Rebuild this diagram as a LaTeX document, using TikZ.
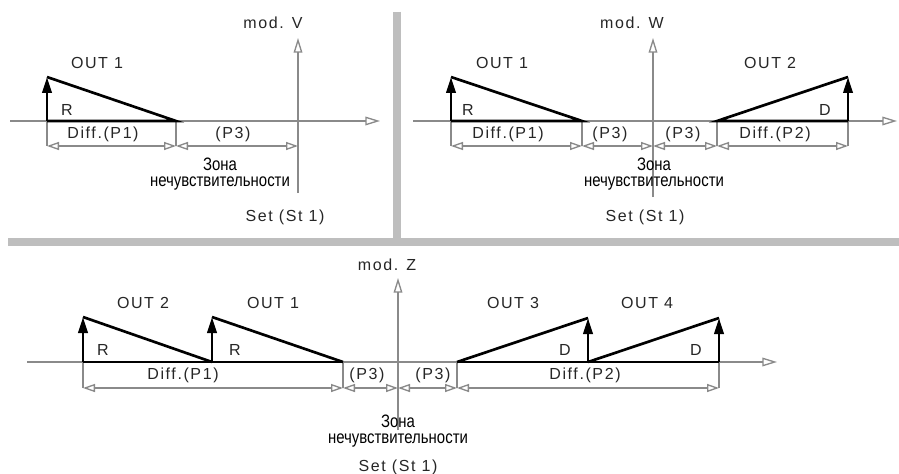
\documentclass[tikz,border=0pt]{standalone}
\usepackage{fontspec}
\setmainfont{Liberation Sans}
\newfontfamily\lblfont{Liberation Sans}[LetterSpace=10]
\newfontfamily\narrowfont{Liberation Sans}[FakeStretch=0.83]
\usetikzlibrary{arrows.meta}
\definecolor{axisgray}{HTML}{8A8A8A}
\definecolor{sepgray}{HTML}{BEBEBE}
\tikzset{
 axisline/.style={axisgray, line width=1.1pt, -{Triangle[open, length=11pt, width=6.5pt, line width=1pt]}},
 dimline/.style={axisgray, line width=1pt, {Triangle[open,length=9pt,width=6pt,line width=1pt]}-{Triangle[open,length=9pt,width=6pt,line width=1pt]}},
 tickline/.style={axisgray, line width=1pt},
 ramp/.style={black, line width=2pt},
 rampup/.style={black, line width=2pt, -{Triangle[length=12pt,width=7pt]}},
 lbl/.style={font=\lblfont\fontsize{12}{14}\selectfont, inner sep=0pt, text=black!85},
 zlbl/.style={font=\narrowfont\fontsize{13.5}{12}\selectfont, inner sep=0pt, align=center},
 sepbar/.style={sepgray, line width=6pt},
}
\begin{document}
\begin{tikzpicture}[x=0.75pt,y=-0.75pt]
\useasboundingbox[fill=white] (0,0) rectangle (899,474);
% separators
\coordinate (sv1) at (396.5,12); \coordinate (sv2) at (396.5,238);
\coordinate (sh1) at (8,242); \coordinate (sh2) at (899,242);
\draw[sepbar] (sv1) -- (sv2);
\draw[sepbar] (sh1) -- (sh2);

% ================= panel 1 =================
\coordinate (a1L) at (10,121); \coordinate (a1R) at (380,121);
\coordinate (v1B) at (298,193); \coordinate (v1T) at (298,38);
\coordinate (p1a) at (47,121); \coordinate (p1t) at (47,77); \coordinate (p1b) at (176,121);
\coordinate (d1a) at (47,146); \coordinate (d1b) at (176,146); \coordinate (d1c) at (298,146);
\draw[axisline] (a1L) -- (a1R);
\draw[axisline] (v1B) -- (v1T);
\draw[tickline] (p1a) -- (d1a);
\draw[tickline] (p1b) -- (d1b);
\draw[dimline] (d1a) -- (d1b);
\draw[dimline] (d1b) -- (d1c);
\draw[ramp] (p1a) -- (p1b) -- (p1t);
\draw[rampup] (p1a) -- (p1t);
\node[lbl] (modV) at (273,23) {mod. V};
\node[lbl] (o1a) at (97,63) {OUT 1};
\node[lbl] (r1a) at (67,110) {R};
\node[lbl] (df1a) at (103,134) {Diff.(P1)};
\node[lbl] (p3a) at (233,134) {(P3)};
\node[zlbl] (zn1) at (220,174) {Зона\\нечувствительности};
\node[lbl] (st1) at (285,217) {Set (St 1)};

% ================= panel 2 =================
\coordinate (a2L) at (413,121); \coordinate (a2R) at (897,121);
\coordinate (v2B) at (653,197); \coordinate (v2T) at (653,38);
\coordinate (q1a) at (451,121); \coordinate (q1t) at (451,77); \coordinate (q1b) at (582,121);
\coordinate (q2a) at (717,121); \coordinate (q2t) at (848,77); \coordinate (q2b) at (848,121);
\coordinate (e1) at (451,146); \coordinate (e2) at (582,146); \coordinate (e3) at (653,146);
\coordinate (e4) at (717,146); \coordinate (e5) at (848,146);
\draw[axisline] (a2L) -- (a2R);
\draw[axisline] (v2B) -- (v2T);
\draw[tickline] (q1a) -- (e1);
\draw[tickline] (q1b) -- (e2);
\draw[tickline] (q2a) -- (e4);
\draw[tickline] (q2b) -- (e5);
\draw[dimline] (e1) -- (e2);
\draw[dimline] (e2) -- (e3);
\draw[dimline] (e3) -- (e4);
\draw[dimline] (e4) -- (e5);
\draw[ramp] (q1a) -- (q1b) -- (q1t);
\draw[rampup] (q1a) -- (q1t);
\draw[ramp] (q2b) -- (q2a) -- (q2t);
\draw[rampup] (q2b) -- (q2t);
\node[lbl] (modW) at (632,23) {mod. W};
\node[lbl] (o2a) at (502,63) {OUT 1};
\node[lbl] (o2b) at (770,63) {OUT 2};
\node[lbl] (r2a) at (468,110) {R};
\node[lbl] (d2a) at (825,110) {D};
\node[lbl] (df2a) at (508,134) {Diff.(P1)};
\node[lbl] (p3b) at (610,134) {(P3)};
\node[lbl] (p3c) at (683,134) {(P3)};
\node[lbl] (df2b) at (775,134) {Diff.(P2)};
\node[zlbl] (zn2) at (654,174) {Зона\\нечувствительности};
\node[lbl] (st2) at (645,217) {Set (St 1)};

% ================= panel 3 =================
\coordinate (a3L) at (27,362); \coordinate (a3R) at (777,362);
\coordinate (v3B) at (398,430); \coordinate (v3T) at (398,278);
\coordinate (s1a) at (83,362); \coordinate (s1t) at (83,317); \coordinate (s1b) at (212,362);
\coordinate (s2t) at (212,317); \coordinate (s2b) at (343,362);
\coordinate (u1a) at (457,362); \coordinate (u1t) at (588,318); \coordinate (u1b) at (588,362);
\coordinate (u2t) at (719,318); \coordinate (u2b) at (719,362);
\coordinate (f1) at (83,388); \coordinate (f2) at (343,388); \coordinate (f3) at (398,388);
\coordinate (f4) at (457,388); \coordinate (f5) at (719,388);
\draw[axisline] (a3L) -- (a3R);
\draw[axisline] (v3B) -- (v3T);
\draw[tickline] (s1a) -- (f1);
\draw[tickline] (s2b) -- (f2);
\draw[tickline] (u1a) -- (f4);
\draw[tickline] (u2b) -- (f5);
\draw[dimline] (f1) -- (f2);
\draw[dimline] (f2) -- (f3);
\draw[dimline] (f3) -- (f4);
\draw[dimline] (f4) -- (f5);
\draw[ramp] (s1a) -- (s2b);
\draw[ramp] (s1t) -- (s1b);
\draw[ramp] (s2t) -- (s2b);
\draw[rampup] (s1a) -- (s1t);
\draw[rampup] (s1b) -- (s2t);
\draw[ramp] (u1a) -- (u2b);
\draw[ramp] (u1a) -- (u1t);
\draw[ramp] (u1b) -- (u2t);
\draw[rampup] (u1b) -- (u1t);
\draw[rampup] (u2b) -- (u2t);
\node[lbl] (modZ) at (387,265) {mod. Z};
\node[lbl] (o3a) at (143,303) {OUT 2};
\node[lbl] (o3b) at (273,303) {OUT 1};
\node[lbl] (o3c) at (513,303) {OUT 3};
\node[lbl] (o3d) at (647,303) {OUT 4};
\node[lbl] (r3a) at (103,350) {R};
\node[lbl] (r3b) at (235,350) {R};
\node[lbl] (d3a) at (565,350) {D};
\node[lbl] (d3b) at (696,350) {D};
\node[lbl] (df3a) at (183,375) {Diff.(P1)};
\node[lbl] (p3d) at (367,375) {(P3)};
\node[lbl] (p3e) at (433,375) {(P3)};
\node[lbl] (df3b) at (585,375) {Diff.(P2)};
\node[zlbl] (zn3) at (398,431) {Зона\\нечувствительности};
\node[lbl] (st3) at (398,467) {Set (St 1)};
\end{tikzpicture}
\end{document}
